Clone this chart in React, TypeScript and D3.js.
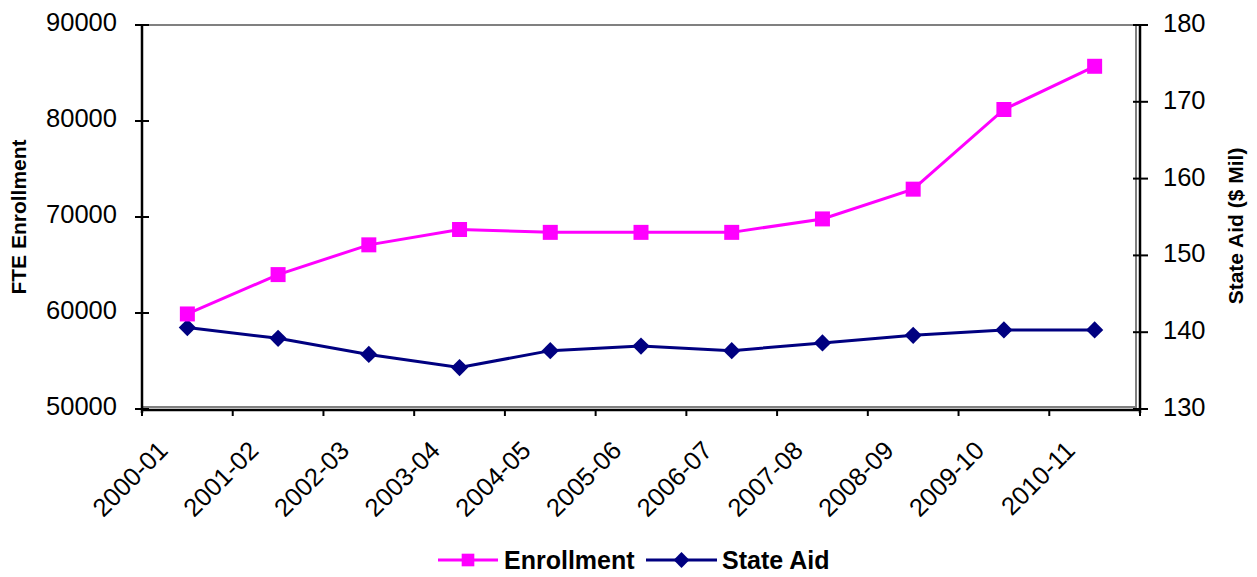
import React, { useEffect, useRef } from 'react';
import * as d3 from 'd3';

const years = [
  '2000-01', '2001-02', '2002-03', '2003-04', '2004-05', '2005-06',
  '2006-07', '2007-08', '2008-09', '2009-10', '2010-11',
];
const enrollment = [59900, 64000, 67100, 68700, 68400, 68400, 68400, 69800, 72900, 81200, 85700];
const stateAid = [140.6, 139.2, 137.1, 135.4, 137.6, 138.2, 137.6, 138.6, 139.6, 140.3, 140.3];
const leftTicks = [50000, 60000, 70000, 80000, 90000];
const rightTicks = [130, 140, 150, 160, 170, 180];

const W = 1257;
const H = 577;
const FONT = '"Liberation Sans", Arial, sans-serif';
const PINK = '#ff00ff';
const NAVY = '#000080';

const App: React.FC = () => {
  const svgRef = useRef<SVGSVGElement>(null);

  useEffect(() => {
    if (!svgRef.current) return;
    const svg = d3.select(svgRef.current);
    svg.selectAll('*').remove();

    const left = 142;
    const right = 1140;
    const top = 25;
    const bottom = 409;

    const x = d3.scaleBand<string>().domain(years).range([left, right]);
    const yL = d3.scaleLinear().domain([50000, 90000]).range([bottom, top]);
    const yR = d3.scaleLinear().domain([130, 180]).range([bottom, top]);
    const cx = (d: string) => (x(d) as number) + x.bandwidth() / 2;

    // plot area border (gray)
    svg
      .append('rect')
      .attr('x', left)
      .attr('y', top)
      .attr('width', right - 4 - left)
      .attr('height', bottom - 2 - top)
      .attr('fill', 'none')
      .attr('stroke', '#808080')
      .attr('stroke-width', 2);

    // left axis
    const gL = svg.append('g').attr('transform', `translate(${left},0)`);
    gL.append('line').attr('y1', top).attr('y2', bottom + 4).attr('stroke', '#000').attr('stroke-width', 2.5);
    gL.selectAll('line.t')
      .data(leftTicks)
      .join('line')
      .attr('class', 't')
      .attr('x1', -7)
      .attr('x2', 7)
      .attr('y1', (d) => yL(d))
      .attr('y2', (d) => yL(d))
      .attr('stroke', '#000')
      .attr('stroke-width', 2);
    gL.selectAll('text')
      .data(leftTicks)
      .join('text')
      .attr('x', -25)
      .attr('y', (d) => yL(d) - 3)
      .attr('dy', '0.35em')
      .attr('text-anchor', 'end')
      .attr('font-family', FONT)
      .attr('font-size', 25.5)
      .text((d) => String(d));

    // right axis
    const gR = svg.append('g').attr('transform', `translate(${right},0)`);
    gR.append('line').attr('y1', top).attr('y2', bottom + 4).attr('stroke', '#000').attr('stroke-width', 2.5);
    gR.selectAll('line.t')
      .data(rightTicks)
      .join('line')
      .attr('class', 't')
      .attr('x1', -7)
      .attr('x2', 8)
      .attr('y1', (d) => yR(d))
      .attr('y2', (d) => yR(d))
      .attr('stroke', '#000')
      .attr('stroke-width', 2);
    gR.selectAll('text')
      .data(rightTicks)
      .join('text')
      .attr('x', 23)
      .attr('y', (d) => yR(d) - 2)
      .attr('dy', '0.35em')
      .attr('font-family', FONT)
      .attr('font-size', 25.5)
      .text((d) => String(d));

    // bottom axis
    const gB = svg.append('g').attr('transform', `translate(0,${bottom + 1})`);
    gB.append('line').attr('x1', left).attr('x2', right).attr('stroke', '#000').attr('stroke-width', 2.5);
    const bounds = [...years.map((d) => x(d) as number), right];
    gB.selectAll('line.t')
      .data(bounds)
      .join('line')
      .attr('class', 't')
      .attr('x1', (d) => d)
      .attr('x2', (d) => d)
      .attr('y1', 0)
      .attr('y2', 6)
      .attr('stroke', '#000')
      .attr('stroke-width', 2);
    gB.selectAll('text')
      .data(years)
      .join('text')
      .attr('transform', (d) => `translate(${cx(d) - 18},42) rotate(-45)`)
      .attr('text-anchor', 'end')
      .attr('font-family', FONT)
      .attr('font-size', 25.5)
      .text((d) => d);

    // axis titles
    svg
      .append('text')
      .attr('transform', `translate(26,${(top + bottom) / 2}) rotate(-90)`)
      .attr('text-anchor', 'middle')
      .attr('font-family', FONT)
      .attr('font-weight', 'bold')
      .attr('font-size', 21)
      .text('FTE Enrollment');
    svg
      .append('text')
      .attr('transform', `translate(1243,226) rotate(-90)`)
      .attr('text-anchor', 'middle')
      .attr('font-family', FONT)
      .attr('font-weight', 'bold')
      .attr('font-size', 21)
      .text('State Aid ($ Mil)');

    // series
    const lineE = d3
      .line<number>()
      .x((_, i) => cx(years[i]))
      .y((d) => yL(d));
    const lineA = d3
      .line<number>()
      .x((_, i) => cx(years[i]))
      .y((d) => yR(d));

    svg.append('path').attr('d', lineA(stateAid)).attr('fill', 'none').attr('stroke', NAVY).attr('stroke-width', 3);
    svg.append('path').attr('d', lineE(enrollment)).attr('fill', 'none').attr('stroke', PINK).attr('stroke-width', 3);

    const diamond = d3.symbol().type(d3.symbolDiamond2).size(190)();
    const square = d3.symbol().type(d3.symbolSquare).size(225)();

    svg
      .selectAll('path.aid')
      .data(stateAid)
      .join('path')
      .attr('class', 'aid')
      .attr('d', diamond)
      .attr('transform', (d, i) => `translate(${cx(years[i])},${yR(d)})`)
      .attr('fill', NAVY);
    svg
      .selectAll('path.enr')
      .data(enrollment)
      .join('path')
      .attr('class', 'enr')
      .attr('d', square)
      .attr('transform', (d, i) => `translate(${cx(years[i])},${yL(d)})`)
      .attr('fill', PINK);

    // legend
    const lg = svg.append('g').attr('transform', 'translate(0,560)');
    const items = [
      { name: 'Enrollment', color: PINK, sym: d3.symbol().type(d3.symbolSquare).size(160)(), x0: 438, x1: 498, tx: 504 },
      { name: 'State Aid', color: NAVY, sym: d3.symbol().type(d3.symbolDiamond2).size(160)(), x0: 646, x1: 717, tx: 722 },
    ];
    items.forEach((it) => {
      lg.append('line').attr('x1', it.x0).attr('x2', it.x1).attr('stroke', it.color).attr('stroke-width', 3);
      lg.append('path')
        .attr('d', it.sym)
        .attr('transform', `translate(${(it.x0 + it.x1) / 2},0)`)
        .attr('fill', it.color);
      lg.append('text')
        .attr('x', it.tx)
        .attr('y', 0)
        .attr('dy', '0.36em')
        .attr('font-family', FONT)
        .attr('font-weight', 'bold')
        .attr('font-size', 25)
        .text(it.name);
    });
  }, []);

  return (
    <div style={{ position: 'absolute', left: 0, top: 0 }}>
      <svg ref={svgRef} width={W} height={H} style={{ display: 'block', background: '#fff' }} />
    </div>
  );
};

export default App;
